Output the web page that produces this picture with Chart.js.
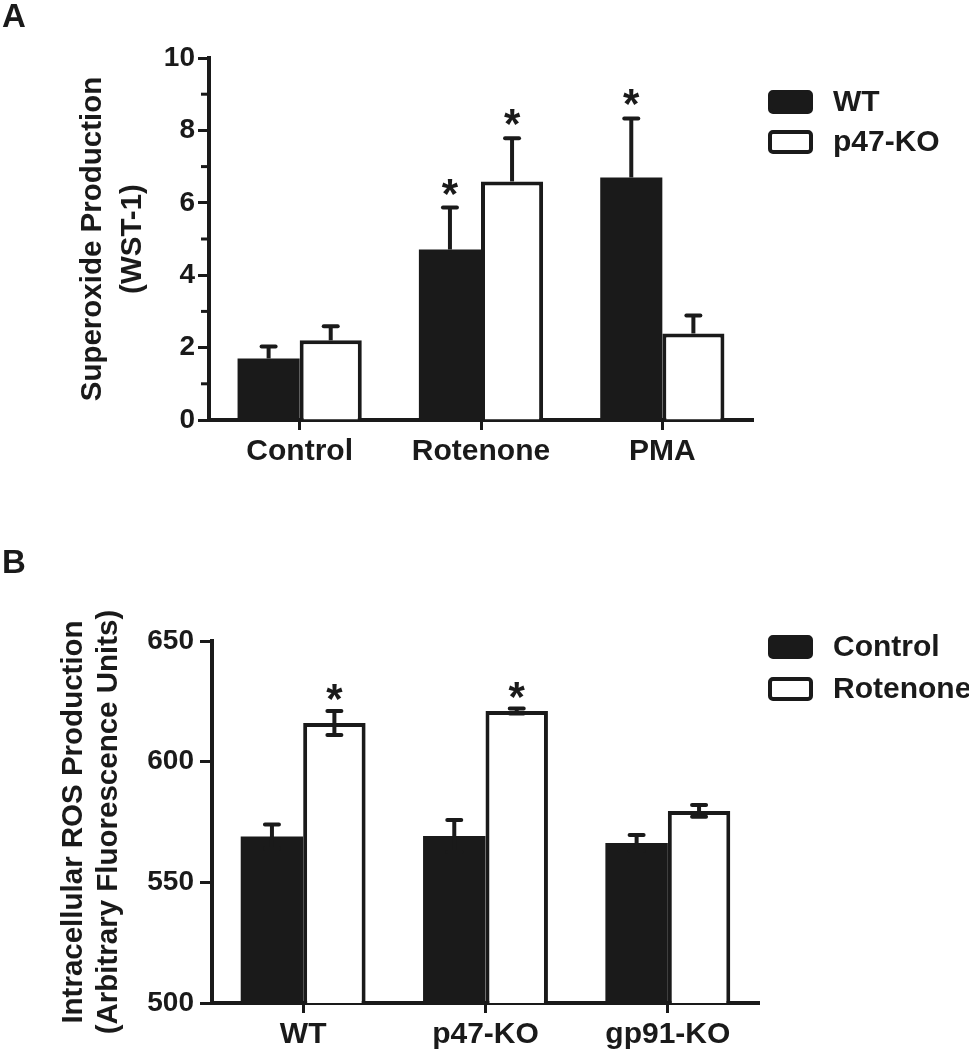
<!DOCTYPE html>
<html>
<head>
<meta charset="utf-8">
<script src="https://cdn.jsdelivr.net/npm/chart.js@4.4.0/dist/chart.umd.min.js"></script>
<style>
  html, body { margin: 0; padding: 0; background: #fff; }
  #wrap { position: relative; width: 969px; height: 1050px; }
  canvas { position: absolute; left: 0; }
</style>
</head>
<body>
<div id="wrap">
  <canvas id="chartA" width="969" height="525" style="top:0"></canvas>
  <canvas id="chartB" width="969" height="525" style="top:525px"></canvas>
</div>
<script>
// --- panel A: superoxide (WST-1) ---
const catsA = ['Control', 'Rotenone', 'PMA'];
const wtA = [1.70, 4.71, 6.70];
const wtErrA = [0.33, 1.16, 1.63];
const koA = [2.20, 6.59, 2.39];
const koErrA = [0.39, 1.19, 0.50];
const wtStarA = [false, true, true];
const koStarA = [false, true, false];
const ticksA = [0, 2, 4, 6, 8, 10];
const minorTicksA = [1, 3, 5, 7, 9];

// --- panel B: intracellular ROS ---
const catsB = ['WT', 'p47-KO', 'gp91-KO'];
const ctrlB = [569.0, 569.2, 566.3];
const ctrlErrB = [5.0, 6.6, 3.3];
const rotB = [616.0, 621.0, 579.6];
const rotErrB = [5.0, 1.0, 2.4];
const ctrlStarB = [false, false, false];
const rotStarB = [true, true, false];
const ticksB = [500, 550, 600, 650];

const INK = '#1a1a1a';
const FONT = '"Liberation Sans", Arial, Helvetica, sans-serif';
Chart.defaults.font.family = FONT;
Chart.defaults.font.weight = 'bold';
Chart.defaults.color = INK;

// error bars + significance stars
const errorBars = {
  id: 'errorBars',
  afterDatasetsDraw(chart, args, opts) {
    const ctx = chart.ctx;
    const y = chart.scales.y;
    chart.data.datasets.forEach((ds, di) => {
      const meta = chart.getDatasetMeta(di);
      meta.data.forEach((bar, i) => {
        const v = ds.data[i], e = ds.err[i];
        const top = y.getPixelForValue(v + e);
        const low = opts.both ? y.getPixelForValue(v - e) : bar.y;
        ctx.save();
        ctx.strokeStyle = INK;
        ctx.lineWidth = 4;
        ctx.beginPath();
        ctx.moveTo(bar.x, low);
        ctx.lineTo(bar.x, top);
        ctx.stroke();
        ctx.lineCap = 'round';
        ctx.beginPath();
        ctx.moveTo(bar.x - 7, top); ctx.lineTo(bar.x + 7, top);
        if (opts.both) { ctx.moveTo(bar.x - 7, low); ctx.lineTo(bar.x + 7, low); }
        ctx.stroke();
        if (ds.star[i]) {
          ctx.fillStyle = INK;
          ctx.font = 'bold 42px ' + FONT;
          ctx.textAlign = 'center';
          ctx.textBaseline = 'alphabetic';
          ctx.fillText('*', bar.x, top + opts.starShift);
        }
        ctx.restore();
      });
    });
  }
};

// legend boxes on the right
const sideLegend = {
  id: 'sideLegend',
  afterDraw(chart, args, opts) {
    const ctx = chart.ctx;
    chart.data.datasets.forEach((ds, i) => {
      const cy = opts.ys[i];
      ctx.save();
      ctx.beginPath();
      ctx.roundRect(opts.x + 2, cy - 10, 41, 20, 3);
      ctx.fillStyle = ds.backgroundColor;
      ctx.fill();
      ctx.lineWidth = 4;
      ctx.strokeStyle = INK;
      ctx.stroke();
      ctx.fillStyle = INK;
      ctx.font = 'bold 30px ' + FONT;
      ctx.textBaseline = 'middle';
      ctx.fillText(ds.label, opts.textX, cy + 1);
      ctx.restore();
    });
  }
};

// panel letter + minor ticks
const extras = {
  id: 'extras',
  afterDraw(chart, args, opts) {
    const ctx = chart.ctx;
    ctx.save();
    ctx.fillStyle = INK;
    ctx.font = 'bold 33px ' + FONT;
    ctx.textBaseline = 'alphabetic';
    ctx.fillText(opts.letter, 2, opts.letterY);
    if (opts.minor) {
      const y = chart.scales.y;
      const left = chart.chartArea.left;
      ctx.strokeStyle = INK;
      ctx.lineWidth = 3;
      opts.minor.forEach(v => {
        const py = y.getPixelForValue(v);
        ctx.beginPath();
        ctx.moveTo(left - 2, py);
        ctx.lineTo(left - 8, py);
        ctx.stroke();
      });
    }
    ctx.restore();
  }
};

function barSet(label, data, err, star, filled) {
  return {
    label: label,
    data: data,
    err: err,
    star: star,
    backgroundColor: filled ? INK : '#ffffff',
    borderColor: INK,
    borderWidth: filled ? 0 : 4,
    categoryPercentage: 0.685,
    barPercentage: 1.0
  };
}

function makeChart(id, cfg) {
  return new Chart(document.getElementById(id), {
    type: 'bar',
    data: {
      labels: cfg.labels,
      datasets: [
        barSet(cfg.names[0], cfg.a, cfg.aErr, cfg.aStar, true),
        barSet(cfg.names[1], cfg.b, cfg.bErr, cfg.bStar, false)
      ]
    },
    options: {
      responsive: false,
      animation: false,
      layout: { padding: { left: 0, right: cfg.padRight, top: cfg.padTop, bottom: 0 } },
      plugins: {
        legend: { display: false },
        tooltip: { enabled: false },
        errorBars: { both: cfg.both, starShift: cfg.starShift },
        sideLegend: { x: 768, textX: 833, ys: cfg.legendYs },
        extras: { letter: cfg.letter, letterY: cfg.letterY, minor: cfg.minor }
      },
      scales: {
        x: {
          offset: true,
          grid: { offset: false, drawOnChartArea: false, tickLength: 10, tickWidth: 3, tickColor: INK },
          border: { color: INK, width: 4 },
          ticks: { font: { size: 30, weight: 'bold' }, color: INK, padding: 4, maxRotation: 0, autoSkip: false },
          afterFit: s => { s.height = cfg.xHeight; }
        },
        y: {
          min: cfg.min,
          max: cfg.max,
          afterBuildTicks: s => { s.ticks = cfg.ticks.map(v => ({ value: v })); },
          grid: { drawOnChartArea: false, tickLength: cfg.tickLen, tickWidth: 3, tickColor: INK },
          border: { color: INK, width: 4 },
          ticks: { font: { size: 28, weight: 'bold' }, color: INK, padding: cfg.tickPad },
          title: {
            display: true,
            text: cfg.title,
            color: INK,
            font: { size: 29.5, weight: 'bold', lineHeight: cfg.titleLH },
            padding: { top: cfg.titlePad, bottom: 0 }
          },
          afterFit: s => { s.width = cfg.yWidth; }
        }
      }
    },
    plugins: [errorBars, sideLegend, extras]
  });
}

makeChart('chartA', {
  labels: catsA, names: ['WT', 'p47-KO'],
  a: wtA, aErr: wtErrA, aStar: wtStarA,
  b: koA, bErr: koErrA, bStar: koStarA,
  min: 0, max: 10, ticks: ticksA, minor: minorTicksA,
  title: ['Superoxide Production', '(WST-1)'], titleLH: 1.36, titlePad: 73,
  yWidth: 209, xHeight: 105, padTop: 58, padRight: 216,
  tickLen: 11, tickPad: 3, both: false, starShift: 0,
  legendYs: [102, 142], letter: 'A', letterY: 27
});

makeChart('chartB', {
  labels: catsB, names: ['Control', 'Rotenone'],
  a: ctrlB, aErr: ctrlErrB, aStar: ctrlStarB,
  b: rotB, bErr: rotErrB, bStar: rotStarB,
  min: 500, max: 650, ticks: ticksB, minor: null,
  title: ['Intracellular ROS Production', '(Arbitrary Fluorescence Units)'], titleLH: 1.19, titlePad: 56,
  yWidth: 212, xHeight: 47, padTop: 116, padRight: 210,
  tickLen: 12, tickPad: 6, both: true, starShift: 2,
  legendYs: [122, 164], letter: 'B', letterY: 48
});
</script>
</body>
</html>
